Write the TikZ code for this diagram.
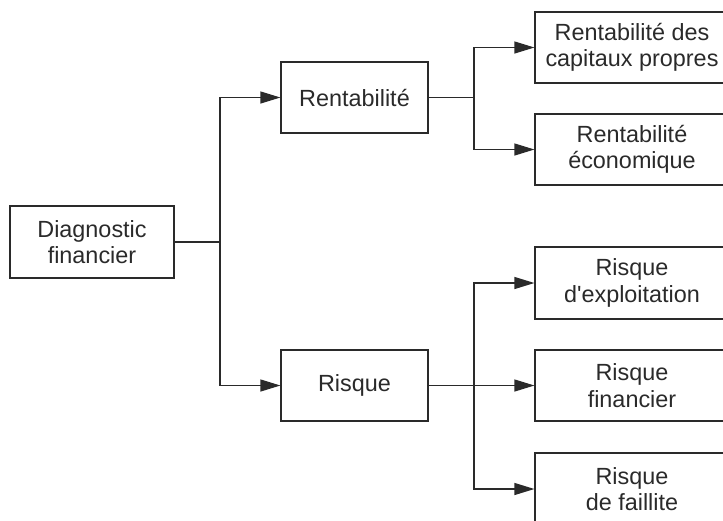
\documentclass[tikz,border=0pt]{standalone}
\usepackage{fontspec}
\setmainfont{Liberation Sans}
\usetikzlibrary{arrows.meta}
\definecolor{ink}{HTML}{2A2A2A}
\begin{document}
\begin{tikzpicture}[x=1pt,y=-1pt,
  box/.style={draw=ink, line width=1.2pt, text=ink, align=center,
    inner sep=0pt, minimum height=71pt,
    font=\fontsize{23.4}{26.5}\selectfont},
  link/.style={draw=ink, line width=1.2pt},
  arr/.style={link, -{Triangle[length=20pt,width=12pt]}}]
  \clip (0,0) rectangle (723,520);

  % root and second level
  \node[box, minimum width=164pt, minimum height=72pt] (diag) at (92,242) {Diagnostic\\financier};
  \node[box, minimum width=147pt] (rent) at (354.5,97.5) {Rentabilité};
  \node[box, minimum width=147pt] (risq) at (354.5,385.5) {Risque};

  % third level
  \node[box, minimum width=194pt] (rcp)   at (632,47.5)  {Rentabilité des\\capitaux propres};
  \node[box, minimum width=194pt] (reco)  at (632,149.5) {Rentabilité\\économique};
  \node[box, minimum width=194pt, minimum height=72pt] (rexp) at (632,283) {Risque\\d\textquotesingle exploitation};
  \node[box, minimum width=194pt] (rfin)  at (632,385.5) {Risque\\financier};
  \node[box, minimum width=194pt, minimum height=72pt] (rfail) at (632,489) {Risque\\de faillite};

  % branching points
  \coordinate (j1) at (220,242);
  \coordinate (j2) at (474,97.5);
  \coordinate (j3) at (474,385.5);

  % connectors
  \draw[link] (diag.east) -- (j1);
  \draw[arr] (j1) |- (rent.west);
  \draw[arr] (j1) |- (risq.west);

  \draw[link] (rent.east) -- (j2);
  \draw[arr] (j2) |- (rcp.west);
  \draw[arr] (j2) |- (reco.west);

  \draw[arr] (risq.east) -- (rfin.west);
  \draw[arr] (j3) |- (rexp.west);
  \draw[arr] (j3) |- (rfail.west);
\end{tikzpicture}
\end{document}
